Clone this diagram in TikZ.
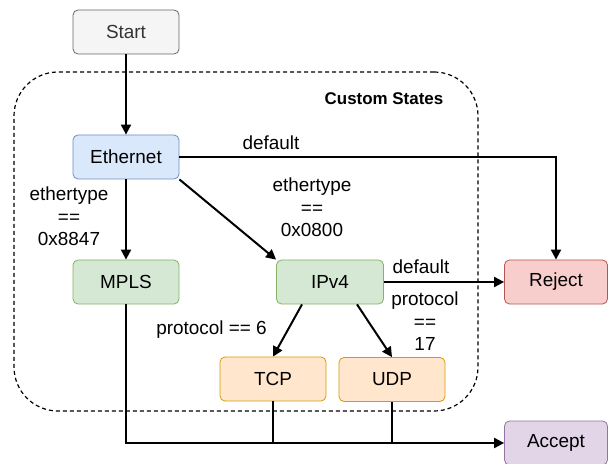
\documentclass[tikz,border=0pt]{standalone}
\usepackage{fontspec}
\setmainfont{Liberation Sans}
\usepackage{tikz}
\usetikzlibrary{arrows.meta}

\definecolor{startfill}{HTML}{F5F5F5}
\definecolor{startline}{HTML}{666666}
\definecolor{starttext}{HTML}{333333}
\definecolor{ethfill}{HTML}{DAE8FC}
\definecolor{ethline}{HTML}{6C8EBF}
\definecolor{greenfill}{HTML}{D5E8D4}
\definecolor{greenline}{HTML}{82B366}
\definecolor{orangefill}{HTML}{FFE6CC}
\definecolor{orangeline}{HTML}{D79B00}
\definecolor{redfill}{HTML}{F8CECC}
\definecolor{redline}{HTML}{B85450}
\definecolor{purplefill}{HTML}{E1D5E7}
\definecolor{purpleline}{HTML}{9673A6}

\begin{document}
\begin{tikzpicture}[x=1bp,y=-1bp]
		\useasboundingbox (0,0) rectangle (608,464);
		\node (group) [draw,dash pattern=on 4bp off 3bp,line width=1.2bp,rounded corners=44bp,
		               minimum width=464bp,minimum height=339bp] at (246,241.5) {};
		\node (grouptitle) [font=\fontsize{17}{20}\selectfont\bfseries] at (384,99) {Custom States};

		\begin{scope}[every node/.style={draw,rounded corners=5bp,line width=0.8bp,
		              minimum width=106bp,minimum height=44bp,font=\fontsize{19}{22}\selectfont}]
			\node (start) [fill=startfill,draw=startline,text=starttext] at (126,32) {Start};
			\node (eth) [fill=ethfill,draw=ethline] at (126,157) {Ethernet};
			\node (mpls) [fill=greenfill,draw=greenline] at (126,282) {MPLS};
			\node (ipv4) [fill=greenfill,draw=greenline,minimum width=107bp] at (330,282) {IPv4};
			\node (tcp) [fill=orangefill,draw=orangeline] at (273,379) {TCP};
			\node (udp) [fill=orangefill,draw=orangeline] at (392,379.5) {UDP};
			\node (reject) [fill=redfill,draw=redline,minimum width=103bp] at (556,282) {Reject};
			\node (accept) [fill=purplefill,draw=purpleline,minimum width=103bp] at (556,443) {Accept};
		\end{scope}

		\begin{scope}[>={Triangle[length=10bp,width=10bp]},line width=2bp]
			\path (start) edge[->] (eth);
			\path (eth) edge[->] (mpls);
			\path (eth.south east) edge[->] (ipv4.north west);
			\draw[->] (eth) -| (reject);
			\path (ipv4) edge[->] (reject);
			\path ([xshift=-28bp]ipv4.south) edge[->] (tcp.north);
			\path ([xshift=27bp]ipv4.south) edge[->] (udp.north);
			\draw[->] (mpls) |- (accept);
			\draw (tcp) -- (tcp |- accept);
			\draw (udp) -- (udp |- accept);
		\end{scope}

		\begin{scope}[every node/.style={align=center,font=\fontsize{19}{22.5}\selectfont}]
			\node (lbldefault) at (271,143) {default};
			\node (lbleight) at (69,216.5) {ethertype\\==\\0x8847};
			\node (lblzero) at (312,207.5) {ethertype\\==\\0x0800};
			\node (lbldefaultip) at (421,267) {default};
			\node (lblsix) at (211.5,330) {protocol == 6};
			\node (lblseventeen) at (425,321.5) {protocol\\==\\17};
		\end{scope}
\end{tikzpicture}
\end{document}
